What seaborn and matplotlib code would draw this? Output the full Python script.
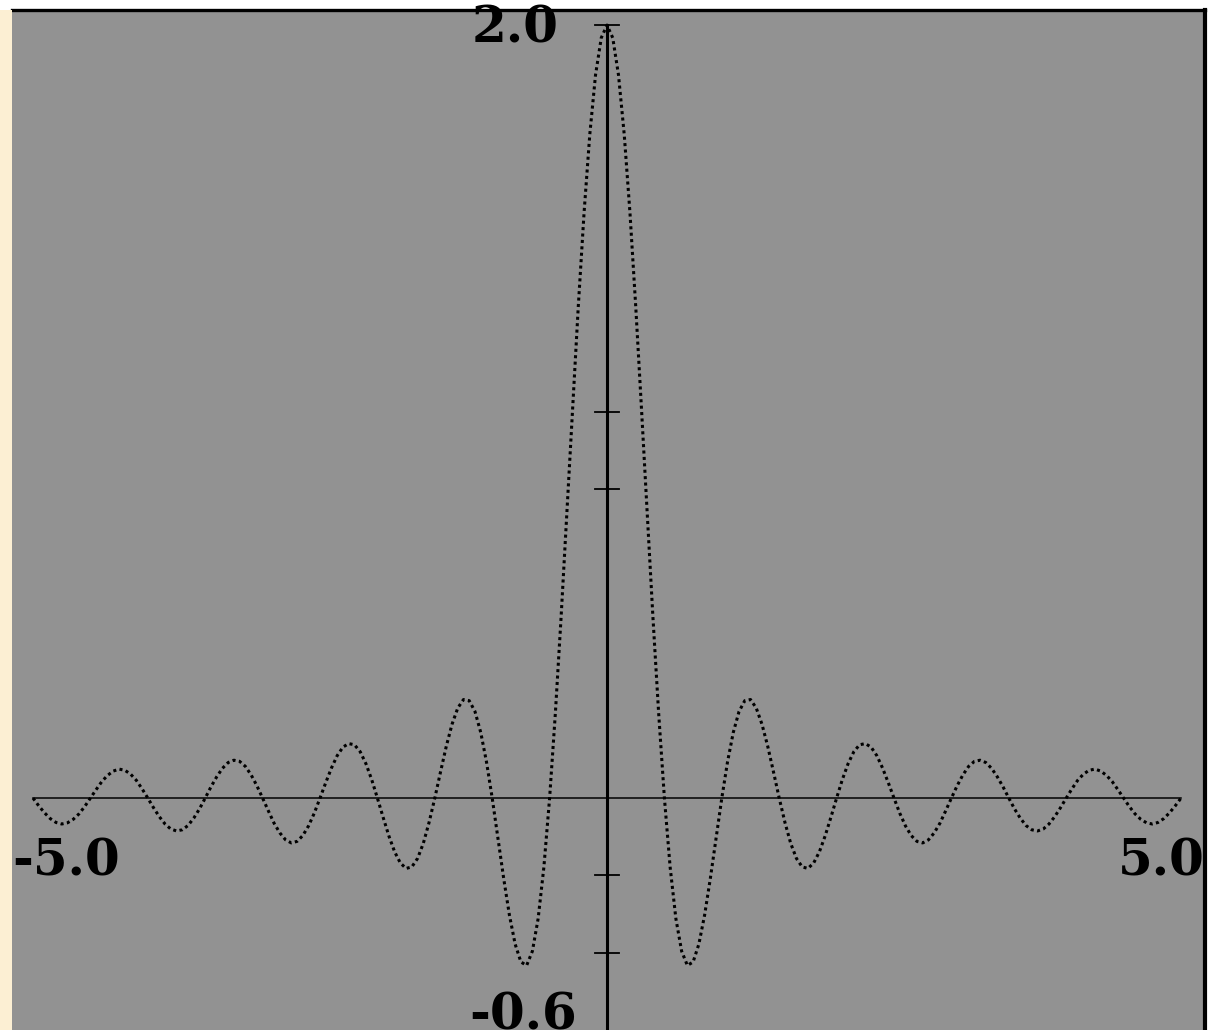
import numpy as np
import matplotlib
matplotlib.use("Agg")
import matplotlib.pyplot as plt
import seaborn as sns
from matplotlib.patches import Rectangle

# curve values, x = 0.00, 0.05, ... 5.00 (curve is symmetric about x = 0)
x_step = 0.05
y_right = [
    2.000, 1.967, 1.871, 1.717, 1.514, 1.273, 1.009, 0.736, 0.468, 0.219,
    0.000, -0.179, -0.312, -0.396, -0.433, -0.424, -0.378, -0.303, -0.208, -0.104,
    0.000, 0.094, 0.170, 0.224, 0.252, 0.255, 0.233, 0.191, 0.134, 0.068,
    0.000, -0.063, -0.117, -0.156, -0.178, -0.182, -0.168, -0.139, -0.098, -0.050,
    0.000, 0.048, 0.089, 0.120, 0.138, 0.141, 0.132, 0.110, 0.078, 0.040,
    0.000, -0.039, -0.072, -0.097, -0.112, -0.116, -0.108, -0.090, -0.065, -0.033,
    0.000, 0.032, 0.060, 0.082, 0.095, 0.098, 0.092, 0.077, 0.055, 0.029,
    0.000, -0.028, -0.052, -0.071, -0.082, -0.085, -0.080, -0.067, -0.048, -0.025,
    0.000, 0.024, 0.046, 0.062, 0.072, 0.075, 0.070, 0.059, 0.043, 0.022,
    0.000, -0.022, -0.041, -0.055, -0.064, -0.067, -0.063, -0.053, -0.038, -0.020,
    0.000,
]
y_ticks = [2.0, 1.0, 0.8, -0.2, -0.4]
x_range = [-5.0, 5.0]
y_range = [-0.6, 2.0]
labels = ["2.0", "-5.0", "5.0", "-0.6"]

y_half = np.array(y_right)
x_half = np.arange(len(y_half)) * x_step
xs = np.concatenate([-x_half[:0:-1], x_half])
ys = np.concatenate([y_half[:0:-1], y_half])

W, H = 1209, 1030
fig = plt.figure(figsize=(W / 100, H / 100), dpi=100, facecolor="white")

# beige strip on the left edge
fig.patches.append(Rectangle((0, 0), 12 / W, 1020 / H, transform=fig.transFigure,
                             facecolor="#FCEFD3", edgecolor="none", zorder=0))

ax = fig.add_axes([12 / W, 0, (1205 - 12) / W, 1020 / H])
ax.set_facecolor("#929292")
ax.set_xlim(-5.183, 5.209)
ax.set_ylim(-0.600, 2.039)
ax.set_xticks([])
ax.set_yticks([])
for side in ["left", "bottom"]:
    ax.spines[side].set_visible(False)
ax.spines["top"].set_linewidth(2.4)
ax.spines["right"].set_linewidth(3.0)
ax.spines["top"].set_color("black")
ax.spines["right"].set_color("black")

# axes drawn inside the plot
ax.plot(x_range, [0, 0], color="black", lw=1.1, zorder=2)
ax.plot([0, 0], [y_range[0], y_range[1]], color="black", lw=2.2, zorder=3)
for t in y_ticks:
    ax.plot([-0.105, 0.105], [t, t], color="black", lw=1.3, zorder=3)

sns.lineplot(x=xs, y=ys, ax=ax, color="black", lw=2.2,
             linestyle=(0, (1.0, 1.1)), zorder=4)

font = dict(family="DejaVu Serif", fontsize=36, fontweight="bold",
            color="black", va="baseline")
ax.text(-0.418, 1.956, labels[0], ha="right", clip_on=False, **font)
ax.text(-5.183, -0.199, labels[1], ha="left", **font)
ax.text(5.209, -0.199, labels[2], ha="right", **font)
ax.text(-0.26, -0.600, labels[3], ha="right", **font)

fig.savefig("out.png", dpi=100, facecolor="white")
